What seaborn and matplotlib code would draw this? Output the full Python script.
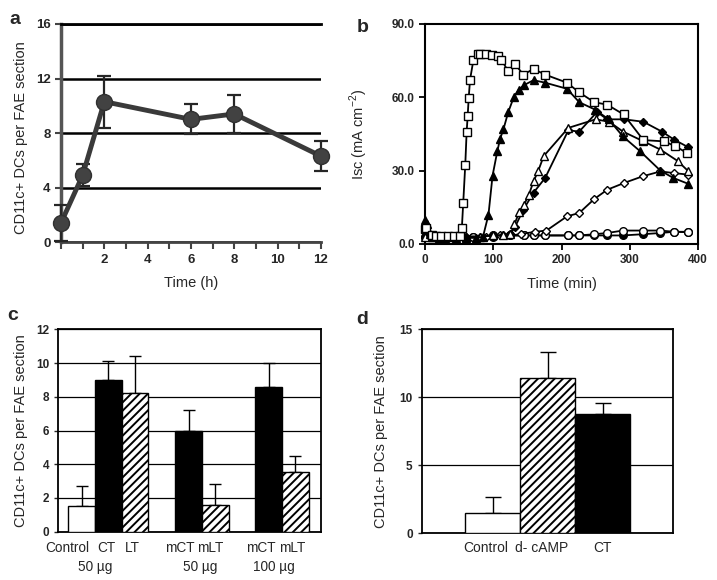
import matplotlib
matplotlib.use("Agg")
import matplotlib.pyplot as plt
import matplotlib.transforms as mtransforms
from matplotlib.ticker import FixedLocator, FormatStrFormatter
import numpy as np
import pandas as pd
import seaborn as sns

# ---------------- data ----------------
# panel a
a_time = [0, 1, 2, 6, 8, 12]
a_mean = [1.4, 4.9, 10.3, 9.0, 9.4, 6.3]
a_err = [1.3, 0.8, 1.9, 1.1, 1.4, 1.1]

# panel b (Isc traces)
sq_t = [0, 2, 10, 16, 24, 33, 42, 51, 54, 56, 59, 61, 62.5, 64, 66, 71, 77, 81, 90, 98, 107, 112, 122, 132, 144, 159, 176, 208, 226, 248, 267, 291, 320, 350, 367, 384]
sq_y = [6, 6.5, 3.8, 3.1, 3.1, 3.1, 3.1, 3.1, 6.5, 16.8, 32.4, 45.8, 52.2, 59.7, 67.2, 75.4, 77.7, 77.7, 77.7, 77.2, 76.8, 75.4, 70.6, 73.6, 69.3, 71.6, 69.3, 66, 62, 58, 57, 53, 42.5, 42, 40, 37.2]

ftri_t = [0, 3, 7, 12, 20, 30, 45, 60, 75, 85, 93, 99, 106, 110, 115, 122, 130, 137, 145, 159, 176, 208, 226, 249, 269, 290, 315, 345, 364, 385]
ftri_y = [10, 8, 4, 3, 2.5, 2.5, 2.5, 2.5, 2.5, 3, 12, 28, 38, 43, 47, 54, 60, 63, 65, 67, 66, 63.5, 58, 55, 51, 44, 38, 30, 27, 24.7]

otri_t = [0, 10, 20, 40, 60, 80, 100, 115, 125, 131, 138, 145, 152, 159, 166, 174, 210, 250, 270, 290, 320, 345, 370, 385]
otri_y = [3, 3, 3, 3, 3, 3, 3.5, 3.5, 4, 8, 13, 16, 20, 25.6, 30, 36, 47.5, 51, 50, 46, 42, 38.6, 34, 30]

fdia_t = [0, 10, 20, 40, 60, 80, 100, 115, 125, 132, 144, 159, 176, 210, 226, 252, 267, 292, 320, 347, 365, 385]
fdia_y = [3, 3, 3, 3, 3, 3, 3.5, 3.5, 4, 7, 14, 21, 27, 46.5, 46, 54, 51, 51, 50, 46, 42.7, 39.7]

odia_t = [0, 10, 30, 60, 90, 110, 125, 140, 161, 178, 208, 226, 248, 267, 292, 319, 345, 365, 385]
odia_y = [3, 3, 3, 3, 3, 3.5, 3.5, 4, 5, 5.5, 11.3, 12.7, 18.4, 22.2, 25, 27.7, 29.7, 29, 28.4]

ocir_t = [0, 15, 40, 70, 100, 125, 145, 160, 176, 210, 226, 248, 267, 290, 319, 345, 365, 385]
ocir_y = [3, 3, 3, 3, 3.5, 3.5, 3.5, 3.5, 3.5, 3.5, 3.5, 4, 4.5, 5.5, 5.5, 5.5, 5, 5]

fcir_t = [0, 15, 40, 70, 100, 125, 145, 160, 176, 210, 226, 248, 267, 290, 319, 345, 365, 385]
fcir_y = [3, 3, 3, 3, 3, 3.5, 3.5, 3.5, 3.5, 3.5, 3.5, 3.5, 3.5, 3.5, 4, 4.5, 5, 4.8]

# panel c
c_groups = ["Control", "CT 50 µg", "LT 50 µg", "mCT 50 µg", "mLT 50 µg", "mCT 100 µg", "mLT 100 µg"]
c_short = ["Control", "CT", "LT", "mCT", "mLT", "mCT", "mLT"]
c_values = [1.5, 9.0, 8.2, 6.0, 1.6, 8.6, 3.55]
c_err = [1.2, 1.1, 2.2, 1.2, 1.2, 1.4, 0.95]
c_fill = ["open", "solid", "hatch", "solid", "hatch", "solid", "hatch"]
c_dose = ["50 µg", "50 µg", "100 µg"]

# panel d
d_labels = ["Control", "d- cAMP", "CT"]
d_values = [1.5, 11.4, 8.8]
d_err = [1.2, 1.9, 0.8]
d_fill = ["open", "hatch", "solid"]

# ---------------- style ----------------
sns.set_theme(style="white")
plt.rcParams["font.family"] = ["Liberation Sans", "DejaVu Sans"]
plt.rcParams["hatch.linewidth"] = 1.4
plt.rcParams["hatch.color"] = "black"
plt.rcParams["mathtext.fontset"] = "custom"
plt.rcParams["mathtext.rm"] = "Liberation Sans"

fig = plt.figure(figsize=(7.17, 5.80), dpi=100)

W, H = 717.0, 580.0
def axes_px(l, t, r, b):
    return fig.add_axes([l / W, 1 - b / H, (r - l) / W, (b - t) / H])

ax_a = axes_px(61, 24, 321, 242)
ax_b = axes_px(425, 24, 698, 244)
ax_c = axes_px(58.3, 329.3, 321, 531.7)
ax_d = axes_px(421.7, 329.3, 673.3, 533.3)

label_kw = dict(fontsize=10.5)

# ---------------- panel a ----------------
dark = "#3a3a3a"
ax_a.errorbar(a_time, a_mean, yerr=a_err, fmt="none", ecolor="#262626",
              elinewidth=1.6, capsize=5, capthick=1.6, clip_on=False, zorder=3)
sns.lineplot(x=a_time, y=a_mean, ax=ax_a, color=dark, lw=3.5, marker="o",
             markersize=11.5, markeredgecolor="#303030", markerfacecolor="#424242",
             markeredgewidth=1, clip_on=False, zorder=4)
ax_a.set_xlim(0, 12)
ax_a.set_ylim(0, 16)
ax_a.set_yticks([0, 4, 8, 12, 16])
ax_a.set_xticks([2, 4, 6, 8, 10, 12])
ax_a.xaxis.set_minor_locator(FixedLocator(list(range(0, 13))))
ax_a.yaxis.grid(True, color="black", lw=1.8)
ax_a.set_axisbelow(True)
ax_a.spines["right"].set_visible(False)
ax_a.spines["top"].set_color("black")
ax_a.spines["top"].set_linewidth(2)
ax_a.spines["left"].set_color("#555555")
ax_a.spines["left"].set_linewidth(2.5)
ax_a.spines["bottom"].set_color("#444444")
ax_a.spines["bottom"].set_linewidth(2)
ax_a.tick_params(axis="x", which="both", direction="out", length=5, width=1.5,
                 color="#444444", bottom=True)
ax_a.tick_params(axis="y", direction="out", length=4, width=1.5, color="#444444", left=True)
for lab in ax_a.get_xticklabels() + ax_a.get_yticklabels():
    lab.set_fontsize(9.5)
    lab.set_fontweight("bold")
ax_a.set_xlabel("Time (h)", **label_kw)
ax_a.set_ylabel("CD11c+ DCs per FAE section", **label_kw)
ax_a.xaxis.set_label_coords(0.5, -0.155)
ax_a.yaxis.set_label_coords(-0.125, 0.48)

# ---------------- panel b ----------------
series = [
    (fcir_t, fcir_y, "o", "black", 5.5),
    (ocir_t, ocir_y, "o", "white", 5.5),
    (odia_t, odia_y, "D", "white", 4.5),
    (fdia_t, fdia_y, "D", "black", 4.5),
    (otri_t, otri_y, "^", "white", 6),
    (ftri_t, ftri_y, "^", "black", 6),
    (sq_t, sq_y, "s", "white", 6),
]
for i, (t, y, m, fc, ms) in enumerate(series):
    sns.lineplot(x=t, y=y, ax=ax_b, color="black", lw=1.3, marker=m, markersize=ms,
                 markerfacecolor=fc, markeredgecolor="black", markeredgewidth=1.0,
                 zorder=3 + i, clip_on=False)
ax_b.set_xlim(0, 400)
ax_b.set_ylim(0, 90)
ax_b.set_xticks([0, 100, 200, 300, 400])
ax_b.set_yticks([0, 30, 60, 90])
ax_b.yaxis.set_major_formatter(FormatStrFormatter("%.1f"))
for s in ax_b.spines.values():
    s.set_visible(True)
    s.set_color("black")
    s.set_linewidth(1.5)
ax_b.tick_params(direction="out", length=4, width=1.3, color="black", left=True, bottom=True)
for lab in ax_b.get_xticklabels() + ax_b.get_yticklabels():
    lab.set_fontsize(8.5)
    lab.set_fontweight("bold")
ax_b.set_xlabel("Time (min)", **label_kw)
ax_b.set_ylabel("Isc (mA cm$^{-2}$)", **label_kw)
ax_b.xaxis.set_label_coords(0.5, -0.15)
ax_b.yaxis.set_label_coords(-0.2, 0.5)

# ---------------- panel c ----------------
c_order = ["Control", "CT 50 µg", "LT 50 µg", "gap1", "mCT 50 µg", "mLT 50 µg", "gap2",
           "mCT 100 µg", "mLT 100 µg"]
c_df = pd.DataFrame({"group": c_groups, "value": c_values})
sns.barplot(data=c_df, x="group", y="value", order=c_order, ax=ax_c, width=1.0,
            color="black", saturation=1, errorbar=None, edgecolor="black",
            linewidth=1.0, zorder=3)
fill_map = {"open": ("white", ""), "solid": ("black", ""), "hatch": ("white", "////")}
c_centers = []
for p, f in zip(list(ax_c.patches), c_fill):
    fc, h = fill_map[f]
    p.set_facecolor(fc)
    p.set_hatch(h)
    p.set_edgecolor("black")
    c_centers.append(p.get_x() + p.get_width() / 2)
ax_c.errorbar(c_centers, c_values, yerr=[[0] * len(c_err), c_err], fmt="none",
              ecolor="black", elinewidth=1.0, capsize=4.5, capthick=1.0, zorder=2)
ax_c.set_xlim(c_centers[0] - 0.876, c_centers[0] + 8.96)
ax_c.set_ylim(0, 12)
ax_c.set_yticks(range(0, 13, 2))
ax_c.yaxis.grid(True, color="black", lw=0.9)
ax_c.set_axisbelow(True)
ax_c.set_xticks([])
ax_c.set_xlabel("")
for s in ax_c.spines.values():
    s.set_visible(True)
    s.set_color("black")
    s.set_linewidth(1.3)
ax_c.tick_params(axis="y", direction="out", length=3, width=1.0, left=True)
for lab in ax_c.get_yticklabels():
    lab.set_fontsize(8.5)
    lab.set_fontweight("bold")
ax_c.set_ylabel("CD11c+ DCs per FAE section", **label_kw)
ax_c.yaxis.set_label_coords(-0.115, 0.5)

trans_c = mtransforms.blended_transform_factory(ax_c.transData, ax_c.transAxes)
c_label_shift = [-0.53, -0.09, -0.12, -0.33, -0.17, -0.28, -0.12]
for cx, name, sh in zip(c_centers, c_short, c_label_shift):
    ax_c.text(cx + sh, -0.08, name, transform=trans_c, ha="center", va="center", fontsize=9.8)
dose_pairs = [(1, 2), (3, 4), (5, 6)]
dose_shift = [-1.0, -0.07, -0.3]
for (i, j), dtxt, sh in zip(dose_pairs, c_dose, dose_shift):
    mid = (c_centers[i] + c_centers[j]) / 2 + sh
    ax_c.text(mid, -0.175, dtxt, transform=trans_c, ha="center", va="center", fontsize=9.8)

# ---------------- panel d ----------------
d_df = pd.DataFrame({"label": d_labels, "value": d_values})
sns.barplot(data=d_df, x="label", y="value", ax=ax_d, width=1.0, color="black",
            saturation=1, errorbar=None, edgecolor="black", linewidth=1.0, zorder=3)
d_centers = []
for p, f in zip(list(ax_d.patches), d_fill):
    fc, h = fill_map[f]
    p.set_facecolor(fc)
    p.set_hatch(h)
    p.set_edgecolor("black")
    d_centers.append(p.get_x() + p.get_width() / 2)
ax_d.errorbar(d_centers, d_values, yerr=[[0] * len(d_err), d_err], fmt="none",
              ecolor="black", elinewidth=1.0, capsize=6, capthick=1.0, zorder=2)
ax_d.set_xlim(d_centers[0] - 1.296, d_centers[0] + 3.28)
ax_d.set_ylim(0, 15)
ax_d.set_yticks([0, 5, 10, 15])
ax_d.yaxis.grid(True, color="black", lw=0.9)
ax_d.set_axisbelow(True)
ax_d.set_xticks([])
ax_d.set_xlabel("")
for s in ax_d.spines.values():
    s.set_visible(True)
    s.set_color("black")
    s.set_linewidth(1.3)
ax_d.tick_params(axis="y", direction="out", length=3, width=1.0, left=True)
for lab in ax_d.get_yticklabels():
    lab.set_fontsize(8.5)
    lab.set_fontweight("bold")
ax_d.set_ylabel("CD11c+ DCs per FAE section", **label_kw)
ax_d.yaxis.set_label_coords(-0.134, 0.5)
trans_d = mtransforms.blended_transform_factory(ax_d.transData, ax_d.transAxes)
d_label_shift = [-0.14, -0.11, 0.0]
for cx, name, sh in zip(d_centers, d_labels, d_label_shift):
    ax_d.text(cx + sh, -0.072, name, transform=trans_d, ha="center", va="center", fontsize=10)

# ---------------- panel letters ----------------
for txt, (x, y) in zip("abcd", [(15, 20), (363, 28), (13, 315), (362, 320)]):
    fig.text(x / W, 1 - y / H, txt, fontsize=14, fontweight="bold", ha="center", va="center")

fig.savefig("out.png", dpi=100)
